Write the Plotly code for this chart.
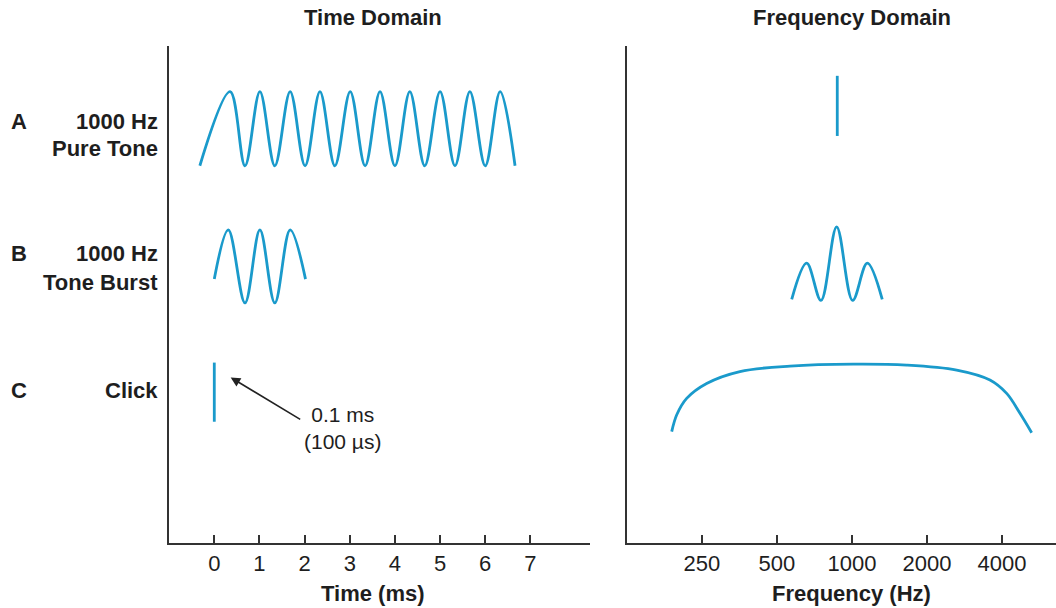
import plotly.graph_objects as go

# ---- data ----
# Time domain (x in ms, y in arbitrary panel units 0..100)
tone_t = [-0.32, 0.35, 0.68, 1.01, 1.34, 1.68, 2.01, 2.34, 2.67, 3.01, 3.34,
          3.67, 4.00, 4.33, 4.66, 5.00, 5.33, 5.66, 6.00, 6.33, 6.66]
tone_y = [75.9, 90.8, 75.9, 90.8, 75.9, 90.8, 75.9, 90.8, 75.9, 90.8, 75.9,
          90.8, 75.9, 90.8, 75.9, 90.8, 75.9, 90.8, 75.9, 90.8, 75.9]

burst_t = [0.0, 0.31, 0.68, 1.01, 1.34, 1.68, 2.02]
burst_y = [53.1, 63.0, 48.3, 63.0, 48.3, 63.0, 53.1]

click_t = [0.0, 0.0]
click_y = [24.4, 36.3]

# Frequency domain (x in Hz, log scale)
tone_f = [873, 873]
tone_fy = [81.9, 94.0]

burst_f = [573, 658, 751, 868, 1006, 1152, 1323]
burst_fy = [49.0, 56.3, 48.8, 63.6, 48.8, 56.3, 49.0]

click_f = [189, 198, 217, 261, 355, 564, 1012, 1658, 2632, 3580, 4178, 4724, 5264]
click_fy = [22.4, 25.8, 29.1, 32.1, 34.5, 35.6, 36.0, 35.8, 34.8, 32.8, 30.1, 26.1, 22.2]

time_ticks = [0, 1, 2, 3, 4, 5, 6, 7]
freq_ticks = [250, 500, 1000, 2000, 4000]
freq_labels = ["250", "500", "1000", "2000", "4000"]

row_letters = ["A", "B", "C"]
row_line1 = ["1000 Hz", "1000 Hz", "Click"]
row_line2 = ["Pure Tone", "Tone Burst", ""]

# ---- styling ----
W, H = 1056, 608
BLUE = "#1a9acb"
AX = "#333333"
TXT = "#1e1e1e"
FONT = "Liberation Sans, Arial, Helvetica, sans-serif"

fig = go.Figure()

def add_line(x, y, xa, ya, spline=True):
    fig.add_trace(go.Scatter(
        x=x, y=y, xaxis=xa, yaxis=ya, mode="lines",
        line=dict(color=BLUE, width=2.8, shape="spline" if spline else "linear",
                  smoothing=1.0),
        hoverinfo="skip", showlegend=False))

add_line(tone_t, tone_y, "x", "y")
add_line(burst_t, burst_y, "x", "y")
add_line(click_t, click_y, "x", "y", spline=False)
add_line(tone_f, tone_fy, "x2", "y2", spline=False)
add_line(burst_f, burst_fy, "x2", "y2")
add_line(click_f, click_fy, "x2", "y2")

y_dom = [(H - 543) / H, (H - 46) / H]

common_x = dict(showline=True, linecolor=AX, linewidth=2, ticks="inside",
                ticklen=8, tickwidth=2, tickcolor=AX, showgrid=False,
                zeroline=False,
                tickfont=dict(family=FONT, size=22, color=TXT))
common_y = dict(showline=True, linecolor=AX, linewidth=2, ticks="",
                showticklabels=False, showgrid=False, zeroline=False,
                range=[0, 100], domain=y_dom)

fig.update_layout(
    width=W, height=H,
    margin=dict(l=0, r=0, t=0, b=0),
    paper_bgcolor="white", plot_bgcolor="white",
    xaxis=dict(domain=[169 / W, 590 / W], range=[-1.003, 8.32],
               tickmode="array", tickvals=time_ticks,
               ticktext=[str(v) for v in time_ticks], anchor="y", **common_x),
    yaxis=dict(anchor="x", **common_y),
    xaxis2=dict(domain=[627 / W, 1.0], type="log", range=[2.097, 3.819],
                tickmode="array", tickvals=freq_ticks, ticktext=freq_labels,
                anchor="y2", **common_x),
    yaxis2=dict(anchor="x2", **common_y),
)

def ann(text, x, y, xanchor="center", bold=True, size=22, xref="paper", yref="paper"):
    fig.add_annotation(text=f"<b>{text}</b>" if bold else text,
                       x=x, y=y, xref=xref, yref=yref, xanchor=xanchor,
                       yanchor="middle", showarrow=False,
                       font=dict(family=FONT, size=size, color=TXT))

def px_x(p):
    return p / W

def px_y(p):
    return 1 - p / H

# panel titles
ann("Time Domain", px_x(372.5), px_y(18))
ann("Frequency Domain", px_x(851.5), px_y(18))
# axis titles
ann("Time (ms)", px_x(373), px_y(593))
ann("Frequency (Hz)", px_x(851.5), px_y(593))

# row labels
row_y1 = [121, 253, 390]
row_y2 = [148, 282, None]
for i in range(3):
    ann(row_letters[i], px_x(19), px_y(row_y1[i]))
    ann(row_line1[i], px_x(160), px_y(row_y1[i]), xanchor="right")
    if row_line2[i]:
        ann(row_line2[i], px_x(160), px_y(row_y2[i]), xanchor="right")

# click duration callout
fig.add_annotation(x=0.363, y=33.3, ax=1.936, ay=24.7, xref="x", yref="y",
                   axref="x", ayref="y", text="", showarrow=True,
                   arrowhead=2, arrowsize=1.2, arrowwidth=1.6, arrowcolor="#222")
fig.add_annotation(text="0.1 ms<br>(100 µs)", x=px_x(342), y=px_y(428),
                   xref="paper", yref="paper", align="center",
                   xanchor="center", yanchor="middle", showarrow=False,
                   font=dict(family=FONT, size=21, color=TXT))

fig.write_html("out.html")
